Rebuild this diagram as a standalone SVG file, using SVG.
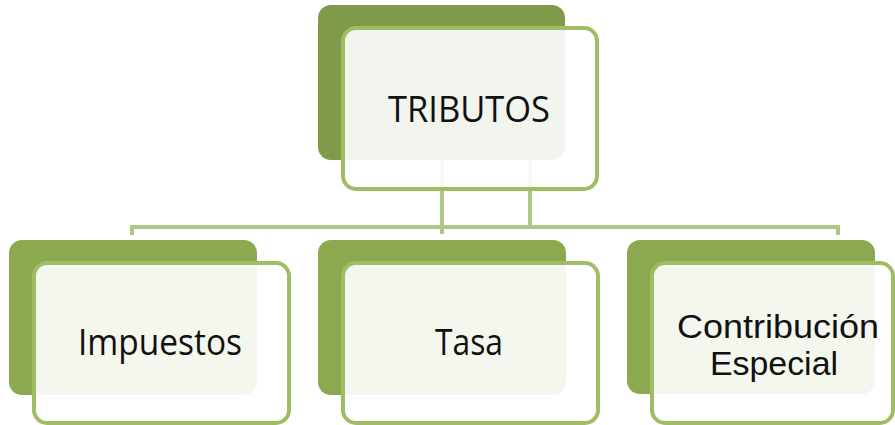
<svg xmlns="http://www.w3.org/2000/svg" width="895" height="425" viewBox="0 0 895 425">
  <style>
    .back { stroke: none; }
    .front { fill: #ffffff; fill-opacity: 0.9; stroke: #9fbe64; stroke-width: 4; }
    .conn { fill: none; stroke: #adc886; stroke-width: 4; }
    .label { font-family: "Open Sans", "Liberation Sans", sans-serif; font-size: 36px; fill: #111111; text-anchor: middle; }
    .label-tight { font-family: "Liberation Sans", Arial, sans-serif; font-size: 33px; fill: #111111; text-anchor: middle; }
  </style>
  <rect width="895" height="425" fill="#ffffff"/>

  <!-- hierarchy connectors (drawn beneath the translucent card faces) -->
  <g id="connectors">
    <path class="conn" d="M442 160 V234"/>
    <path class="conn" d="M530 160 V227"/>
    <path class="conn" d="M132 235 V227 H838 V235"/>
  </g>

  <g id="tributos">
    <rect class="back" x="318" y="5" width="247" height="155" rx="13" fill="#7f9a48"/>
    <rect class="front" x="343" y="28" width="254" height="161" rx="13"/>
    <text class="label" x="469" y="122" textLength="162" lengthAdjust="spacingAndGlyphs">TRIBUTOS</text>
  </g>

  <g id="impuestos">
    <rect class="back" x="9" y="240" width="248" height="155" rx="13" fill="#8ba94f"/>
    <rect class="front" x="34" y="263" width="255" height="160" rx="13"/>
    <text class="label" x="160" y="355" textLength="164" lengthAdjust="spacingAndGlyphs">Impuestos</text>
  </g>

  <g id="tasa">
    <rect class="back" x="318" y="240" width="248" height="155" rx="13" fill="#8ba94f"/>
    <rect class="front" x="343" y="263" width="255" height="160" rx="13"/>
    <text class="label" x="469" y="355" textLength="68" lengthAdjust="spacingAndGlyphs">Tasa</text>
  </g>

  <g id="contribucion">
    <rect class="back" x="627" y="240" width="248" height="154" rx="13" fill="#8ba94f"/>
    <rect class="front" x="652" y="263" width="241" height="160" rx="13"/>
    <text class="label-tight"><tspan x="778" y="338" textLength="202" lengthAdjust="spacingAndGlyphs">Contribución</tspan><tspan x="774" y="375" textLength="128" lengthAdjust="spacingAndGlyphs">Especial</tspan></text>
  </g>
</svg>
